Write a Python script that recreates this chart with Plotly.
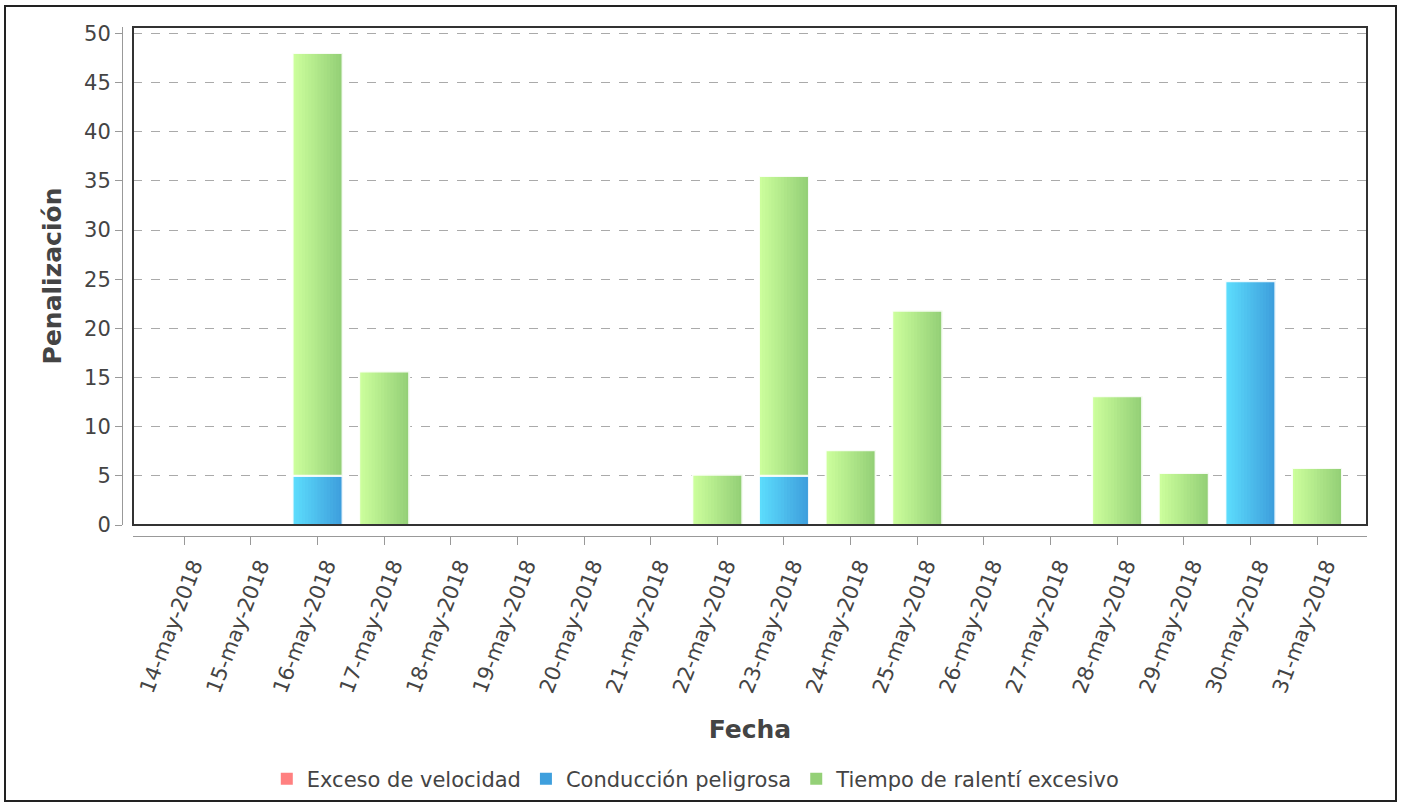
import plotly.graph_objects as go

# ---------------- data ----------------
fechas = ["14-may-2018", "15-may-2018", "16-may-2018", "17-may-2018", "18-may-2018",
          "19-may-2018", "20-may-2018", "21-may-2018", "22-may-2018", "23-may-2018",
          "24-may-2018", "25-may-2018", "26-may-2018", "27-may-2018", "28-may-2018",
          "29-may-2018", "30-may-2018", "31-may-2018"]
exceso_velocidad = [0] * 18
conduccion_peligrosa = [0, 0, 5, 0, 0, 0, 0, 0, 0, 5, 0, 0, 0, 0, 0, 0, 24.8, 0]
tiempo_ralenti = [0, 0, 43, 15.6, 0, 0, 0, 0, 5.1, 30.5, 7.6, 21.8, 0, 0, 13.1, 5.3, 0, 5.8]

series_names = ["Exceso de velocidad", "Conducción peligrosa", "Tiempo de ralentí excesivo"]
y_ticks = list(range(0, 55, 5))

# ---------------- styling ----------------
FONT = "DejaVu Sans"
TXT = "#444444"
BAR_W = 0.75
N_SLICES = 16
grad_blue = ((0x5C, 0xDC, 0xFC), (0x3E, 0x9F, 0xDD))
grad_green = ((0xCC, 0xFE, 0x9C), (0x94, 0xD0, 0x77))


def nz(vals):
    return [v if v else None for v in vals]


def lerp(c0, c1, t):
    return "rgb(%d,%d,%d)" % tuple(round(a + (b - a) * t) for a, b in zip(c0, c1))


xi = list(range(len(fechas)))
base_green = conduccion_peligrosa

fig = go.Figure()

# legend-only entry for the (empty) speeding series
fig.add_trace(go.Bar(x=xi, y=nz(exceso_velocidad), name=series_names[0],
                     marker=dict(color="#FF8080", line=dict(width=0)),
                     width=BAR_W, hoverinfo="skip"))


def gradient_bars(vals, base, grad, name):
    step = BAR_W / N_SLICES
    for k in range(N_SLICES):
        t = k / (N_SLICES - 1)
        fig.add_trace(go.Bar(
            x=xi, y=nz(vals), base=base,
            offset=-BAR_W / 2 + k * step, width=BAR_W - k * step,
            marker=dict(color=lerp(grad[0], grad[1], t), line=dict(width=0)),
            name=name, showlegend=(k == N_SLICES - 1), legendgroup=name,
            hoverinfo="skip" if k < N_SLICES - 1 else None,
        ))
    # thin light outline over the whole bar
    fig.add_trace(go.Bar(
        x=xi, y=nz(vals), base=base, offset=-BAR_W / 2, width=BAR_W,
        marker=dict(color="rgba(0,0,0,0)", line=dict(color="rgba(255,255,255,0.9)", width=2)),
        showlegend=False, legendgroup=name, hoverinfo="skip"))


gradient_bars(conduccion_peligrosa, None, grad_blue, series_names[1])
gradient_bars(tiempo_ralenti, base_green, grad_green, series_names[2])

fig.update_layout(
    width=1401, height=803,
    margin=dict(l=122, r=34, t=27, b=267, autoexpand=False),
    paper_bgcolor="white", plot_bgcolor="white",
    barmode="overlay",
    font=dict(family=FONT, color=TXT, size=21),
    showlegend=True,
    legend=dict(orientation="h", xref="container", yref="container",
                x=0.497, xanchor="center", y=1 - 779 / 803, yanchor="middle",
                font=dict(family=FONT, size=21, color=TXT), itemwidth=30,
                traceorder="normal"),
    xaxis=dict(
        domain=[11 / 1245, 1], anchor="free", position=0, automargin=False,
        range=[-0.77, 17.75],
        tickmode="array", tickvals=xi, ticktext=fechas, tickangle=-69,
        ticklabelshift=9,
        showline=True, linecolor="#999999", linewidth=1,
        ticks="outside", ticklen=8, tickcolor="#999999",
        showgrid=False, zeroline=False,
        tickfont=dict(family=FONT, size=21, color=TXT),
        title=dict(text="<b>Fecha</b>", font=dict(family=FONT, size=25, color=TXT), standoff=24),
    ),
    yaxis=dict(
        domain=[11 / 509, 1], anchor="free", position=0, automargin=False,
        range=[0, 50.65],
        tickmode="array", tickvals=y_ticks,
        showline=True, linecolor="#999999", linewidth=1,
        ticks="outside", ticklen=7, tickcolor="#999999",
        showgrid=True, gridcolor="#AAAAAA", griddash="dash", gridwidth=1,
        zeroline=False,
        tickfont=dict(family=FONT, size=21, color=TXT),
        title=dict(text="<b>Penalización</b>", font=dict(family=FONT, size=25, color=TXT), standoff=14),
    ),
    shapes=[
        dict(type="rect", xref="x domain", yref="y domain", x0=0, x1=1, y0=0, y1=1,
             line=dict(color="#333333", width=2), layer="above"),
        dict(type="rect", xref="paper", yref="paper",
             x0=(5 - 122) / 1245, x1=(1396 - 122) / 1245,
             y0=(536 - 801) / 509, y1=(536 - 6) / 509,
             line=dict(color="#222222", width=2), layer="above"),
    ],
)

fig.write_html("out.html", config={"displayModeBar": False},
               post_script="document.body.style.margin='0';document.body.style.overflow='hidden';")
